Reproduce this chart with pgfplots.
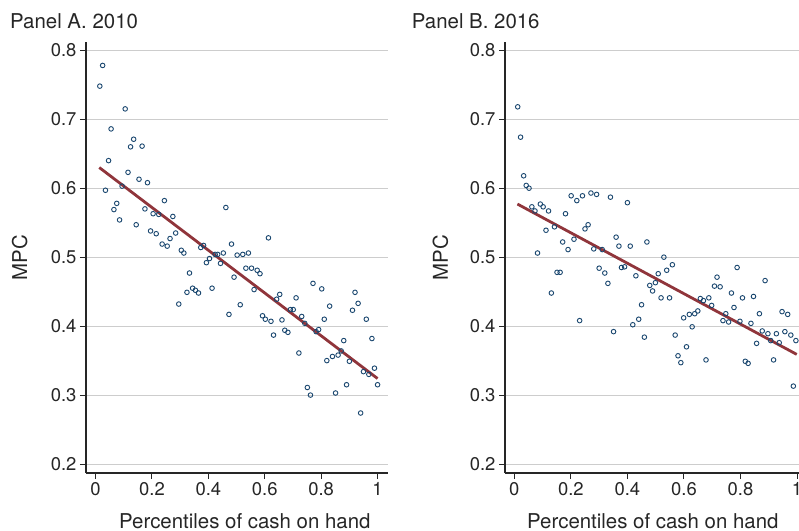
\documentclass[border=0pt]{standalone}
\usepackage{fontspec}
\setmainfont{TeX Gyre Heros}
\usepackage{pgfplots}
\usepackage{pgfplotstable}
\pgfplotsset{compat=1.18}

\definecolor{statanavy}{RGB}{26,71,111}
\definecolor{statamaroon}{RGB}{144,53,59}
\definecolor{gridgray}{RGB}{205,205,205}

% percentile of cash on hand vs MPC, panel A (2010)
\pgfplotstableread{
x y
0.015 0.748
0.025 0.778
0.035 0.597
0.046 0.640
0.055 0.686
0.065 0.569
0.075 0.578
0.085 0.554
0.094 0.603
0.105 0.715
0.115 0.623
0.124 0.660
0.135 0.671
0.144 0.547
0.154 0.613
0.165 0.661
0.175 0.570
0.184 0.608
0.195 0.538
0.204 0.563
0.215 0.534
0.224 0.562
0.236 0.519
0.244 0.582
0.254 0.516
0.264 0.527
0.274 0.559
0.284 0.535
0.295 0.432
0.304 0.510
0.313 0.506
0.324 0.449
0.333 0.477
0.344 0.455
0.354 0.452
0.365 0.448
0.373 0.514
0.383 0.517
0.393 0.492
0.404 0.498
0.413 0.455
0.424 0.504
0.433 0.504
0.443 0.491
0.453 0.506
0.462 0.572
0.473 0.417
0.482 0.519
0.491 0.471
0.502 0.503
0.513 0.431
0.522 0.504
0.533 0.484
0.542 0.506
0.553 0.484
0.562 0.453
0.573 0.481
0.583 0.476
0.592 0.415
0.602 0.410
0.613 0.528
0.622 0.407
0.631 0.387
0.642 0.439
0.653 0.446
0.661 0.409
0.671 0.394
0.682 0.391
0.691 0.424
0.701 0.424
0.711 0.441
0.721 0.361
0.731 0.414
0.742 0.404
0.751 0.311
0.762 0.300
0.771 0.462
0.782 0.392
0.791 0.395
0.802 0.454
0.811 0.410
0.820 0.350
0.830 0.429
0.840 0.356
0.851 0.303
0.860 0.358
0.871 0.364
0.880 0.379
0.890 0.315
0.900 0.349
0.911 0.423
0.920 0.449
0.931 0.433
0.940 0.274
0.950 0.334
0.960 0.410
0.969 0.330
0.980 0.382
0.989 0.339
1.000 0.315
}\dataA

% panel B (2016)
\pgfplotstableread{
x y
0.012 0.718
0.022 0.674
0.033 0.618
0.042 0.604
0.052 0.600
0.062 0.573
0.073 0.567
0.082 0.506
0.092 0.577
0.102 0.573
0.112 0.539
0.121 0.567
0.131 0.448
0.142 0.544
0.151 0.478
0.162 0.478
0.171 0.522
0.181 0.563
0.190 0.511
0.201 0.589
0.211 0.526
0.221 0.582
0.231 0.408
0.241 0.589
0.250 0.541
0.261 0.547
0.271 0.593
0.281 0.512
0.291 0.591
0.300 0.484
0.311 0.511
0.320 0.477
0.331 0.462
0.340 0.587
0.351 0.392
0.360 0.529
0.370 0.516
0.379 0.485
0.390 0.486
0.400 0.579
0.410 0.516
0.419 0.402
0.430 0.473
0.440 0.410
0.450 0.431
0.460 0.384
0.469 0.522
0.479 0.459
0.489 0.451
0.499 0.463
0.509 0.476
0.519 0.441
0.529 0.500
0.539 0.481
0.549 0.441
0.559 0.489
0.569 0.387
0.579 0.357
0.589 0.347
0.599 0.412
0.609 0.370
0.619 0.417
0.629 0.399
0.638 0.418
0.649 0.422
0.658 0.440
0.669 0.437
0.678 0.351
0.688 0.441
0.698 0.430
0.708 0.458
0.717 0.471
0.728 0.457
0.738 0.408
0.748 0.418
0.758 0.406
0.768 0.448
0.777 0.427
0.788 0.485
0.798 0.407
0.807 0.441
0.817 0.349
0.827 0.346
0.837 0.404
0.846 0.443
0.857 0.375
0.867 0.418
0.877 0.393
0.887 0.466
0.897 0.389
0.907 0.379
0.917 0.351
0.927 0.389
0.937 0.376
0.947 0.421
0.957 0.392
0.967 0.417
0.978 0.387
0.987 0.313
0.996 0.379
}\dataB

\newcommand{\labfont}{\fontsize{20.5}{24}\selectfont}
\newcommand{\tickfont}{\fontsize{18.5}{22}\selectfont}

\pgfplotsset{mpcpanel/.style={
  scale only axis,
  anchor=south west,
  height=431bp,
  ymin=0.187, ymax=0.812,
  axis lines*=left,
  axis line style={line width=1.1bp, black!85},
  tick align=outside,
  major tick length=6bp,
  tick style={line width=1bp, black!85},
  ytick={0.2,0.3,0.4,0.5,0.6,0.7,0.8},
  xtick={0,0.2,0.4,0.6,0.8,1},
  ymajorgrids,
  y grid style={gridgray, line width=1bp},
  /pgf/number format/assume math mode=true,
  /pgf/number format/fixed,
  yticklabel style={/pgf/number format/fixed zerofill, /pgf/number format/precision=1, font=\tickfont, black!85},
  xticklabel style={font=\tickfont, black!85},
  ylabel={MPC},
  ylabel style={at={(rel axis cs:-0.22,0.5)}, anchor=center, font=\labfont, black!85},
  xlabel={Percentiles of cash on hand},
  clip=false,
}}

\begin{document}
\begin{tikzpicture}
\path[use as bounding box] (0,0) rectangle (799bp,-531bp);

\begin{axis}[mpcpanel, at={(86bp,-473bp)}, width=302bp,
  xmin=-0.034, xmax=1.037,
  xlabel style={at={(rel axis cs:0.526,0)}, anchor=base, yshift=-55bp, font=\labfont, black!85}]
\addplot[only marks, mark=o, mark size=2.3bp, statanavy, line width=0.9bp] table {\dataA};
\addplot[statamaroon, line width=2.8bp] coordinates {(0.013,0.630) (1.0,0.324)};
\end{axis}

\begin{axis}[mpcpanel, at={(505bp,-473bp)}, width=294bp,
  xmin=-0.033, xmax=1.007,
  xlabel style={at={(rel axis cs:0.503,0)}, anchor=base, yshift=-55bp, font=\labfont, black!85}]
\addplot[only marks, mark=o, mark size=2.3bp, statanavy, line width=0.9bp] table {\dataB};
\addplot[statamaroon, line width=2.8bp] coordinates {(0.011,0.577) (0.999,0.359)};
\end{axis}

\node[anchor=base west, inner sep=0, font=\labfont, black!85] at (10bp,-28bp) {Panel A. 2010};
\node[anchor=base west, inner sep=0, font=\labfont, black!85] at (411.7bp,-28bp) {Panel B. 2016};
\end{tikzpicture}
\end{document}
